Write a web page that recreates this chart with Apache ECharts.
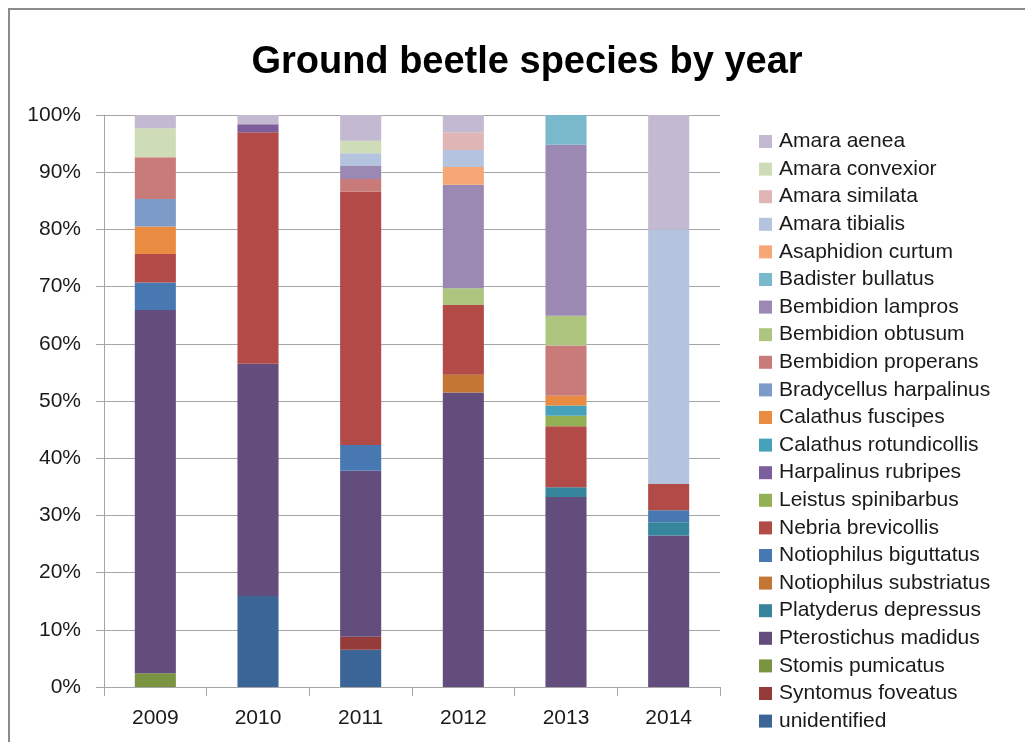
<!DOCTYPE html>
<html>
<head>
<meta charset="utf-8">
<script src="https://cdn.jsdelivr.net/npm/echarts@6/dist/echarts.min.js"></script>
<style>
  body { margin: 0; background: #fff; }
  #wrap { position: relative; width: 1025px; height: 742px; overflow: hidden; }
  #frame { position: absolute; left: 8px; top: 8px; width: 1100px; height: 800px;
           border-left: 2px solid #8c8c8c; border-top: 2px solid #8c8c8c; pointer-events: none; }
  #chart { position: absolute; left: 0; top: 0; width: 1025px; height: 742px; }
</style>
</head>
<body>
<div id="wrap">
  <div id="chart"></div>
  <div id="frame"></div>
</div>
<script>
const years = ['2009', '2010', '2011', '2012', '2013', '2014']

// bottom of the stack first
const species = [
    'unidentified', 'Syntomus foveatus', 'Stomis pumicatus', 'Pterostichus madidus',
    'Platyderus depressus', 'Notiophilus substriatus', 'Notiophilus biguttatus',
    'Nebria brevicollis', 'Leistus spinibarbus', 'Harpalinus rubripes',
    'Calathus rotundicollis', 'Calathus fuscipes', 'Bradycellus harpalinus',
    'Bembidion properans', 'Bembidion obtusum', 'Bembidion lampros',
    'Badister bullatus', 'Asaphidion curtum', 'Amara tibialis', 'Amara similata',
    'Amara convexior', 'Amara aenea'
]

const colors = [
    '#3c6597', '#953b3a', '#7a9442', '#624d7c', '#35869c', '#c47634', '#4878b2',
    '#b24a47', '#94b055', '#7b5e9b', '#46a2bb', '#e98b40', '#7d9bc8', '#c97b7a',
    '#adc57f', '#9b89b3', '#7ab8cc', '#f5a875', '#b5c4de', '#dfb6b5', '#cfdcb8',
    '#c3b9d1'
]

// percent share of each species, same order as species
const y2009 = [0, 0, 2.4, 63.5, 0, 0, 4.8, 5.0, 0, 0, 0, 4.8, 4.8, 7.3, 0, 0, 0, 0, 0, 0, 5.1, 2.3]
const y2010 = [15.9, 0, 0, 40.6, 0, 0, 0, 40.5, 0, 1.4, 0, 0, 0, 0, 0, 0, 0, 0, 0, 0, 0, 1.6]
const y2011 = [6.5, 2.3, 0, 29.0, 0, 0, 4.5, 44.3, 0, 0, 0, 0, 0, 2.2, 0, 2.3, 0, 0, 2.2, 0, 2.2, 4.5]
const y2012 = [0, 0, 0, 51.5, 0, 3.1, 0, 12.2, 0, 0, 0, 0, 0, 0, 2.9, 18.1, 0, 3.1, 3.0, 3.1, 0, 3.0]
const y2013 = [0, 0, 0, 33.2, 1.7, 0, 0, 10.7, 1.8, 0, 1.8, 1.7, 0, 8.8, 5.2, 29.9, 5.2, 0, 0, 0, 0, 0]
const y2014 = [0, 0, 0, 26.5, 2.3, 0, 2.1, 4.6, 0, 0, 0, 0, 0, 0, 0, 0, 0, 0, 44.5, 0, 0, 20.0]

const yTicks = [0, 10, 20, 30, 40, 50, 60, 70, 80, 90, 100]

const byYear = [y2009, y2010, y2011, y2012, y2013, y2014]
const font = 'Liberation Sans, Arial, sans-serif'

let chart = echarts.init(document.getElementById('chart'))
chart.setOption({
    animation: false,
    color: colors,
    title: {
        text: 'Ground beetle species by year',
        left: 522,
        textAlign: 'center',
        top: 39,
        textStyle: { fontFamily: font, fontSize: 38, fontWeight: 'bold', color: '#000' }
    },
    legend: {
        orient: 'vertical',
        left: 754,
        top: 126,
        data: species.slice().reverse(),
        icon: 'rect',
        itemWidth: 13,
        itemHeight: 13,
        itemGap: 6.6,
        textStyle: { fontFamily: font, fontSize: 21, lineHeight: 21, color: '#1a1a1a', padding: [0, 0, 0, 2] }
    },
    grid: {
        left: 104,
        right: 305,
        top: 115,
        bottom: 55
    },
    xAxis: {
        type: 'category',
        data: years,
        axisLine: { lineStyle: { color: '#a6a6a6', width: 1 } },
        axisTick: { show: true, length: 9, lineStyle: { color: '#a6a6a6' } },
        axisLabel: { margin: 21, fontFamily: font, fontSize: 21, color: '#1a1a1a' }
    },
    yAxis: {
        type: 'value',
        min: yTicks[0],
        max: yTicks[yTicks.length - 1],
        interval: 10,
        axisLine: { show: true, lineStyle: { color: '#a6a6a6', width: 1 } },
        axisTick: { show: true, length: 8, lineStyle: { color: '#a6a6a6' } },
        axisLabel: { margin: 23, fontFamily: font, fontSize: 21, color: '#1a1a1a', formatter: '{value}%' },
        splitLine: { lineStyle: { color: '#a6a6a6', width: 1 } }
    },
    series: species.map((name, i) => ({
        name: name,
        type: 'bar',
        stack: 'total',
        barWidth: '40%',
        data: byYear.map(v => v[i])
    }))
})
</script>
</body>
</html>
